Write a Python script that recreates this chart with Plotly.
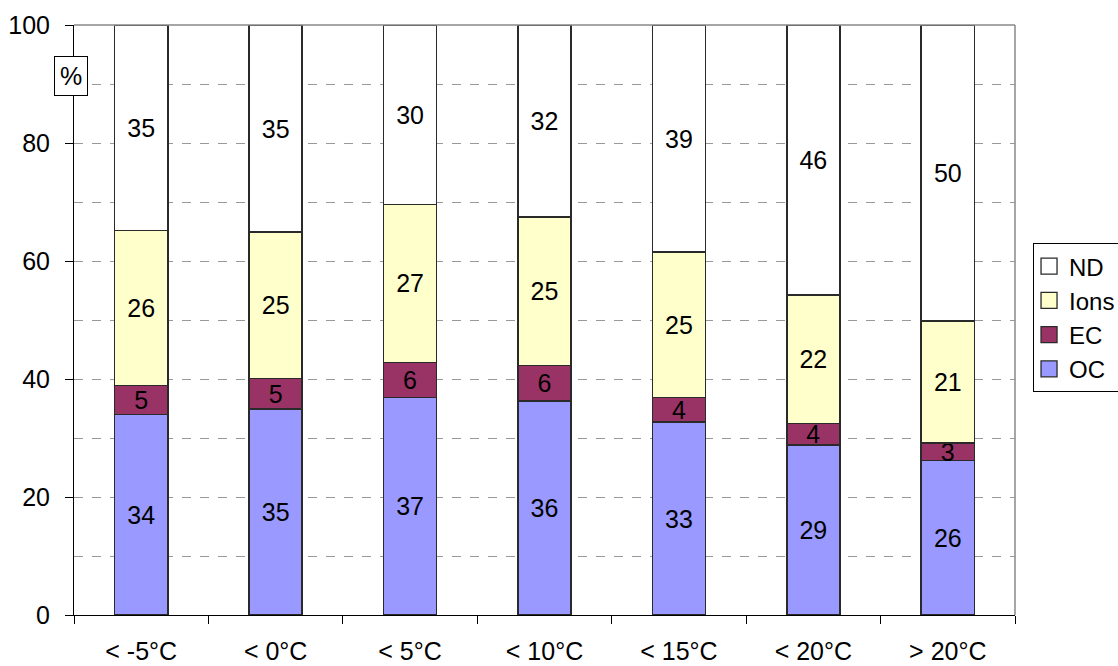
import plotly.graph_objects as go

# Temperature classes and composition shares (%)
categories = ["< -5°C", "< 0°C", "< 5°C", "< 10°C", "< 15°C", "< 20°C", "> 20°C"]
oc = [34.0, 34.9, 36.9, 36.3, 32.7, 28.8, 26.2]
ec = [4.9, 5.2, 5.9, 6.0, 4.2, 3.7, 2.95]
ions = [26.3, 24.8, 26.8, 25.2, 24.6, 21.7, 20.7]
nd = [34.8, 35.1, 30.4, 32.4, 38.5, 45.8, 50.15]

series = [
    ("OC", oc, "#9999FF"),
    ("EC", ec, "#993366"),
    ("Ions", ions, "#FFFFCC"),
    ("ND", nd, "#FFFFFF"),
]

FONT = "Liberation Sans, Arial, sans-serif"
EDGE = "#2a2a2a"

fig = go.Figure()
for name, vals, color in series:
    fig.add_trace(go.Bar(
        x=categories, y=vals, name=name, showlegend=False,
        marker=dict(color=color, line=dict(color=EDGE, width=1.5)),
        texttemplate="%{y:.0f}", textposition="inside",
        insidetextanchor="middle", textangle=0,
        textfont=dict(size=25, color="black", family=FONT),
        hoverinfo="skip",
    ))

# legend entries with larger square swatches (top to bottom: ND, Ions, EC, OC)
for name, vals, color in reversed(series):
    fig.add_trace(go.Scatter(
        x=[None], y=[None], mode="markers", name=name,
        marker=dict(symbol="square", size=17, color=color, line=dict(color=EDGE, width=1.3)),
    ))

fig.update_layout(
    barmode="stack",
    bargap=0.605,
    width=1118, height=666,
    margin=dict(l=74, r=103, t=25, b=51, autoexpand=False),
    paper_bgcolor="white", plot_bgcolor="white",
    font=dict(family=FONT, size=25, color="black"),
    uniformtext=dict(mode="show", minsize=25),
    legend=dict(
        xref="container", yref="container",
        x=0.924, y=0.635, xanchor="left", yanchor="top",
        traceorder="normal", indentation=-5,
        font=dict(size=24, color="black"),
        bordercolor="black", borderwidth=1, bgcolor="white",
        tracegroupgap=0, itemwidth=30,
    ),
)

fig.update_yaxes(
    range=[0, 100], dtick=20,
    showline=True, linecolor="black", linewidth=1,
    ticks="outside", ticklen=8, tickcolor="black",
    showgrid=True, gridcolor="#999999", griddash="dash", gridwidth=1,
    minor=dict(dtick=10, showgrid=True, gridcolor="#999999", griddash="dash", ticks=""),
    tickfont=dict(size=25), ticklabelstandoff=10,
    zeroline=False, automargin=False,
)
fig.update_xaxes(
    showline=True, linecolor="black", linewidth=1,
    ticks="outside", tickson="boundaries", ticklen=8, tickcolor="black",
    showgrid=False, tickfont=dict(size=25),
    ticklabelstandoff=14, automargin=False,
)

# grey frame at top and right of the plot area
fig.add_shape(type="line", xref="paper", yref="paper", x0=0, x1=1, y0=1, y1=1,
              line=dict(color="#888888", width=1.5))
fig.add_shape(type="line", xref="paper", yref="paper", x0=1, x1=1, y0=0, y1=1,
              line=dict(color="#888888", width=1.5))

# unit label box
fig.add_annotation(
    text="%", xref="paper", yref="y", x=-0.003, y=91.4,
    xanchor="center", yanchor="middle",
    showarrow=False, font=dict(size=25, color="black"),
    bgcolor="white", bordercolor="black", borderwidth=1, borderpad=5,
)

fig.write_html("out.html", config={"displayModeBar": False},
               post_script="document.body.style.margin='0';")
